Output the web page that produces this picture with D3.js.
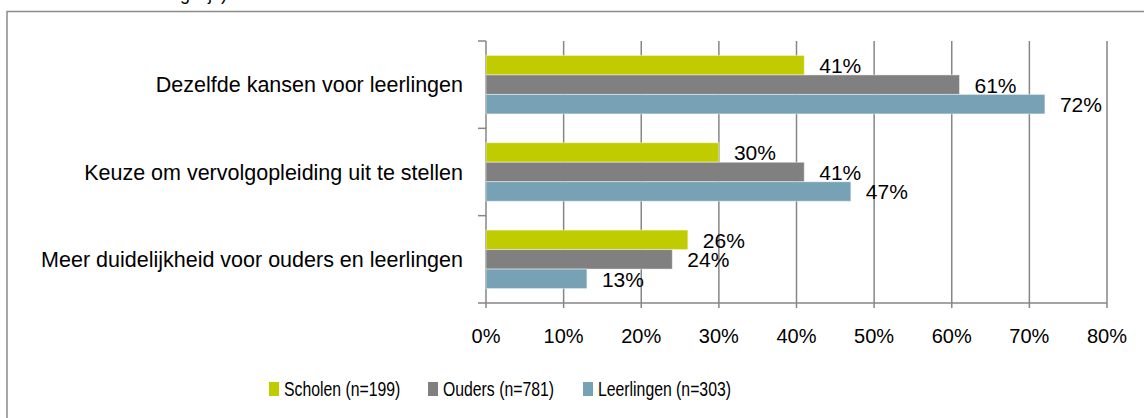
<!DOCTYPE html>
<html><head><meta charset="utf-8">
<script src="https://cdn.jsdelivr.net/npm/d3@7"></script>
<style>
html,body{margin:0;padding:0;background:#fff;}
svg{display:block;}
text{font-family:"Liberation Sans",Arial,sans-serif;fill:#000;}
</style></head>
<body>
<svg id="chart" width="1144" height="418"></svg>
<script>
const categories = ["Dezelfde kansen voor leerlingen","Keuze om vervolgopleiding uit te stellen","Meer duidelijkheid voor ouders en leerlingen"];
const seriesNames = ["Scholen (n=199)","Ouders (n=781)","Leerlingen (n=303)"];
const scholen = [0.41, 0.30, 0.26];
const ouders = [0.61, 0.41, 0.24];
const leerlingen = [0.72, 0.47, 0.13];
const tickValues = [0,0.1,0.2,0.3,0.4,0.5,0.6,0.7,0.8];
const colors = ["#c0cc00","#808080","#77a1b5"];
const topNote = "(meerdere antwoorden mogelijk)";

const svg = d3.select("#chart");
const seriesVals = [scholen, ouders, leerlingen];

// cut-off note above frame (only descenders visible, as in the reference)
svg.append("text").attr("x",227).attr("y",0).attr("text-anchor","end")
  .style("font-size","18px").text(topNote);

// frame
svg.append("rect").attr("x",7).attr("y",11.5).attr("width",1200).attr("height",500)
  .attr("fill","none").attr("stroke","#8a8a8a").attr("stroke-width",1.5);

const x = d3.scaleLinear().domain([0,0.8]).range([486,1107]);
const y0 = d3.scaleBand().domain(categories).range([41,303]).padding(0);
const y1 = d3.scaleBand().domain(seriesNames).range([y0.bandwidth()*0.165, y0.bandwidth()*0.835]).padding(0);

const grid = "#868686";
svg.append("g").selectAll("line").data(tickValues).join("line")
  .attr("x1",d=>x(d)).attr("x2",d=>x(d)).attr("y1",41).attr("y2",308)
  .attr("stroke",grid).attr("stroke-width",1.5);
svg.append("line").attr("x1",x(0)).attr("x2",x(0.8)).attr("y1",303).attr("y2",303)
  .attr("stroke",grid).attr("stroke-width",1.5);
const edges = categories.map(c=>y0(c)).concat([303]);
svg.append("g").selectAll("line").data(edges).join("line")
  .attr("x1",478).attr("x2",x(0)).attr("y1",d=>d).attr("y2",d=>d)
  .attr("stroke",grid).attr("stroke-width",1.5);

const fmt = d3.format(".0%");
svg.append("g").selectAll("text").data(tickValues).join("text")
  .attr("x",d=>x(d)).attr("y",343).attr("text-anchor","middle")
  .style("font-size","20px").text(d=>fmt(d));

svg.append("g").selectAll("text").data(categories).join("text")
  .attr("x",463).attr("y",d=>y0(d)+y0.bandwidth()/2).attr("dy","0.36em")
  .attr("text-anchor","end").style("font-size","21.5px").text(d=>d);

categories.forEach((c,i)=>{
  const g = svg.append("g").attr("transform",`translate(0,${y0(c)})`);
  seriesNames.forEach((s,j)=>{
    const v = seriesVals[j][i];
    g.append("rect").attr("x",x(0)).attr("y",y1(s)).attr("width",x(v)-x(0)).attr("height",y1.bandwidth())
      .attr("fill",colors[j]).attr("stroke","rgba(255,255,255,0.45)").attr("stroke-width",1);
    g.append("text").attr("x",x(v)+15).attr("y",y1(s)+y1.bandwidth()/2).attr("dy","0.38em")
      .style("font-size","21px").text(fmt(v));
  });
});

// legend (text is horizontally condensed in the reference)
const legendX = [269,428,583];
const sx = 0.81;
const lg = svg.append("g");
seriesNames.forEach((s,j)=>{
  lg.append("rect").attr("x",legendX[j]).attr("y",382).attr("width",10).attr("height",14).attr("fill",colors[j]);
  lg.append("text").attr("transform",`translate(${legendX[j]+15},396) scale(${sx},1)`)
    .style("font-size","19.5px").text(s);
});
</script>
</body></html>
